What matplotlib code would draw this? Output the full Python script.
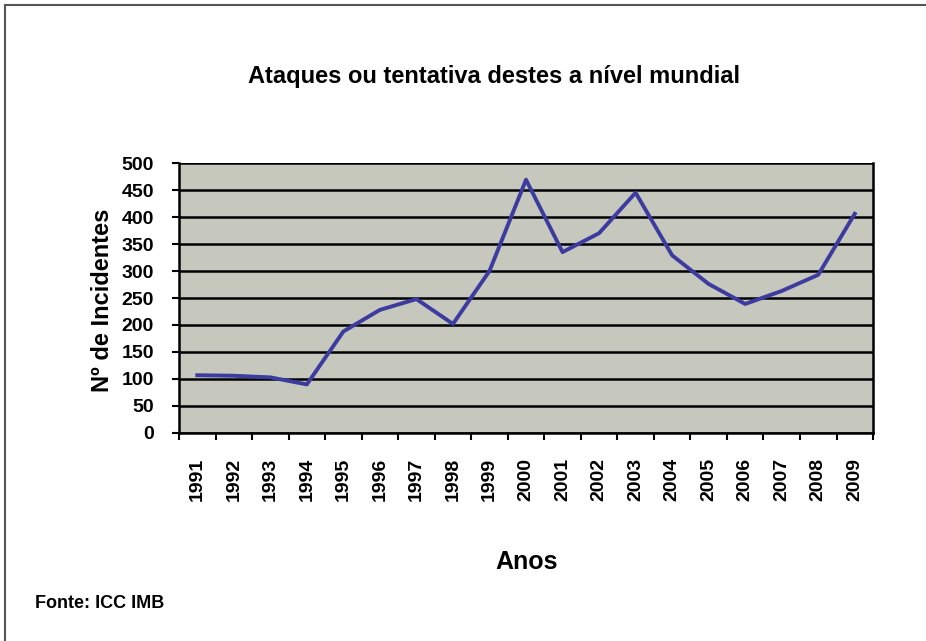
import matplotlib
matplotlib.use("Agg")
import matplotlib.pyplot as plt

# Dados: ataques de pirataria (IMB)
anos = ['1991', '1992', '1993', '1994', '1995', '1996', '1997', '1998', '1999', '2000',
        '2001', '2002', '2003', '2004', '2005', '2006', '2007', '2008', '2009']
incidentes = [107, 106, 103, 90, 188, 228, 248, 202, 300, 469,
              335, 370, 445, 329, 276, 239, 263, 293, 406]
yticks = [0, 50, 100, 150, 200, 250, 300, 350, 400, 450, 500]

plt.rcParams['font.family'] = ['Liberation Sans', 'DejaVu Sans']
plt.rcParams['font.weight'] = 'bold'

fig = plt.figure(figsize=(9.26, 6.41), dpi=100)
ax = fig.add_axes([0.1933, 0.3245, 0.7495, 0.4212])

xs = range(len(anos))
ax.set_facecolor('#c6c7bd')
ax.plot(xs, incidentes, color='#3c3ca0', linewidth=2.8, zorder=3)

# grelha horizontal preta
for v in yticks:
    ax.axhline(v, color='black', linewidth=1.8, zorder=2)

ax.set_xlim(-0.5, len(anos) - 0.5)
ax.set_ylim(0, 500)
ax.set_yticks(yticks)
ax.set_yticklabels([str(v) for v in yticks], fontsize=14, fontweight='bold')

# ticks entre categorias, rótulos no centro
ax.set_xticks([i - 0.5 for i in range(len(anos) + 1)])
ax.set_xticklabels([])
ax.set_xticks(list(xs), minor=True)
ax.set_xticklabels(anos, minor=True, rotation=90, fontsize=14, fontweight='bold')
ax.tick_params(axis='x', which='minor', length=0, pad=18)
ax.tick_params(axis='x', which='major', length=5, width=1.5, direction='out')
ax.tick_params(axis='y', length=5, width=1.5, direction='out', pad=13)

for s in ['left', 'bottom', 'right']:
    ax.spines[s].set_linewidth(1.8)
    ax.spines[s].set_color('black')
ax.spines['top'].set_visible(False)

fig.text(0.534, 0.8705, 'Ataques ou tentativa destes a nível mundial',
         ha='center', va='baseline', fontsize=17, fontweight='bold')
fig.text(0.111, 0.532, 'Nº de Incidentes', rotation=90,
         ha='center', va='center', fontsize=17, fontweight='bold')
fig.text(0.569, 0.123, 'Anos', ha='center', va='center', fontsize=18, fontweight='bold')
fig.text(0.038, 0.059, 'Fonte: ICC IMB', ha='left', va='center', fontsize=13, fontweight='bold')

# moldura (esquerda e topo)
fig.add_artist(plt.Line2D([0.005, 0.005], [0, 0.992], color='#555555', linewidth=1.5))
fig.add_artist(plt.Line2D([0.005, 1.0], [0.992, 0.992], color='#555555', linewidth=1.5))

fig.savefig('out.png', dpi=100)
